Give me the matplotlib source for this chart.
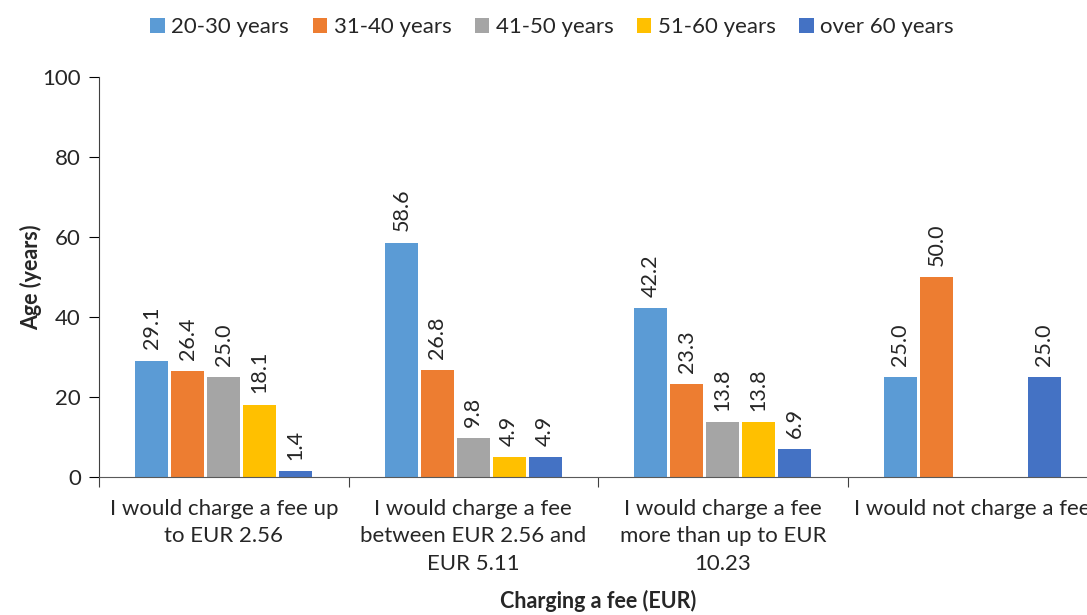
import matplotlib.pyplot as plt
import numpy as np

plt.rcParams['font.family'] = ['Lato', 'DejaVu Sans']

categories = ['I would charge a fee up\nto EUR 2.56',
              'I would charge a fee\nbetween EUR 2.56 and\nEUR 5.11',
              'I would charge a fee\nmore than up to EUR\n10.23',
              'I would not charge a fee']
series = ['20-30 years', '31-40 years', '41-50 years', '51-60 years', 'over 60 years']
age_20_30 = [29.1, 58.6, 42.2, 25.0]
age_31_40 = [26.4, 26.8, 23.3, 50.0]
age_41_50 = [25.0, 9.8, 13.8, np.nan]
age_51_60 = [18.1, 4.9, 13.8, np.nan]
age_over_60 = [1.4, 4.9, 6.9, 25.0]
colors = ['#5B9BD5', '#ED7D31', '#A5A5A5', '#FFC000', '#4472C4']

values = [age_20_30, age_31_40, age_41_50, age_51_60, age_over_60]
txt = '#262626'

fig = plt.figure(figsize=(10.87, 6.15), dpi=100)
ax = fig.add_axes([99/1087, 138/615, 998/1087, 400/615])

x = np.arange(len(categories))
step = 0.144
width = 0.132
for i, (name, vals, col) in enumerate(zip(series, values, colors)):
    pos = x + (i - 2) * step
    ax.bar(pos, vals, width, color=col, label=name)
    for p, v in zip(pos, vals):
        if np.isnan(v):
            continue
        ax.annotate(f'{v:.1f}', (p, v), xytext=(0, 8), textcoords='offset points',
                    rotation=90, ha='center', va='bottom', fontsize=15.5, color=txt)

ax.set_xlim(-0.5, 3.5)
ax.set_ylim(0, 100)
ax.set_yticks(np.arange(0, 101, 20))
ax.set_xticks(np.arange(-0.5, 3.6, 1.0))
ax.set_xticklabels([])
ax.set_xticks(x, minor=True)
ax.set_xticklabels(categories, minor=True, fontsize=16, color=txt, linespacing=1.45)
ax.tick_params(axis='x', which='minor', length=0, pad=16)
ax.tick_params(axis='x', which='major', length=7, color='#404040')
ax.tick_params(axis='y', length=7, labelsize=16, labelcolor=txt, pad=6)

for s in ['top', 'right']:
    ax.spines[s].set_visible(False)
ax.spines['left'].set_color('#404040')
ax.spines['bottom'].set_color('#595959')

ax.set_ylabel('Age (years)', fontsize=15.5, fontweight='bold', color=txt, labelpad=0)
ax.set_xlabel('Charging a fee (EUR)', fontsize=15.5, fontweight='bold', color=txt, labelpad=12)

fig.legend(loc='upper center', bbox_to_anchor=(0.508, 1.005), ncol=5, frameon=False,
           fontsize=16, handlelength=0.65, handleheight=0.65, handletextpad=0.3,
           columnspacing=1.05, labelcolor=txt)

fig.savefig('out.png', dpi=100)
